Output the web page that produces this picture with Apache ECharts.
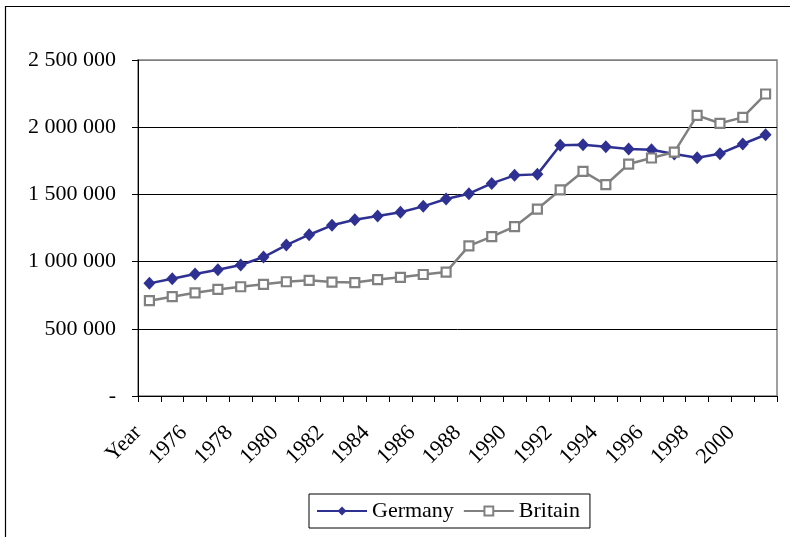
<!DOCTYPE html>
<html>
<head>
<meta charset="utf-8">
<script src="https://cdn.jsdelivr.net/npm/echarts@6/dist/echarts.min.js"></script>
<style>
html,body{margin:0;padding:0;background:#fff;}
#c{width:790px;height:537px;}
</style>
</head>
<body>
<div id="c"></div>
<script>
var categories = ['Year','1975','1976','1977','1978','1979','1980','1981','1982','1983','1984','1985','1986','1987','1988','1989','1990','1991','1992','1993','1994','1995','1996','1997','1998','1999','2000','2001'];
var germany = [838000, 872000, 908000, 940000, 975000, 1034000, 1123000, 1200000, 1270000, 1312000, 1339000, 1367000, 1411000, 1466000, 1505000, 1582000, 1642000, 1649000, 1865000, 1870000, 1855000, 1838000, 1832000, 1800000, 1773000, 1803000, 1875000, 1944000];
var britain = [709000, 739000, 768000, 793000, 813000, 831000, 850000, 861000, 848000, 844000, 866000, 883000, 904000, 922000, 1117000, 1186000, 1260000, 1391000, 1533000, 1671000, 1572000, 1726000, 1771000, 1815000, 2088000, 2029000, 2073000, 2247000];
var yTicks = [0, 500000, 1000000, 1500000, 2000000, 2500000];
var yTickLabels = ['-', '500 000', '1 000 000', '1 500 000', '2 000 000', '2 500 000'];

var FONT = 'Liberation Serif';
var chart = echarts.init(document.getElementById('c'), null, {renderer: 'canvas'});
chart.setOption({
  animation: false,
  backgroundColor: '#fff',
  graphic: [{
    type: 'rect',
    shape: {x: 5.5, y: 6.5, width: 900, height: 900},
    style: {fill: 'none', stroke: '#000', lineWidth: 1.2},
    silent: true, z: 0
  }],
  grid: {
    left: 138, right: 13, top: 60, bottom: 141,
    show: true, borderColor: '#808080', borderWidth: 1.5, backgroundColor: 'transparent'
  },
  legend: {
    left: 309, top: 494,
    orient: 'horizontal',
    borderColor: '#000', borderWidth: 1,
    padding: [6, 10, 6, 7],
    itemWidth: 50, itemHeight: 11, itemGap: 9,
    textStyle: {fontFamily: FONT, fontSize: 22, color: '#000'},
    data: ['Germany', 'Britain']
  },
  xAxis: {
    type: 'category',
    data: categories,
    boundaryGap: true,
    axisLine: {show: true, lineStyle: {color: '#000', width: 1}},
    axisTick: {show: true, interval: 0, length: 6, lineStyle: {color: '#000'}},
    axisLabel: {
      interval: 1, rotate: 45, margin: 22, padding: [0, 16, 0, 0],
      fontFamily: FONT, fontSize: 22, color: '#000'
    },
    splitLine: {show: false}
  },
  yAxis: {
    type: 'value',
    min: 0, max: 2500000, interval: 500000,
    axisLine: {show: true, lineStyle: {color: '#000', width: 1}},
    axisTick: {show: true, length: 6, lineStyle: {color: '#000'}},
    axisLabel: {
      margin: 22, fontFamily: FONT, fontSize: 22, color: '#000',
      formatter: function (v) {
        var i = yTicks.indexOf(v);
        return i >= 0 ? yTickLabels[i] : '';
      }
    },
    splitLine: {show: true, lineStyle: {color: ['#000', '#000', '#000', '#000', '#000', '#808080'], width: 1}}
  },
  series: [{
    name: 'Germany',
    type: 'line',
    data: germany,
    symbol: 'diamond',
    symbolSize: [12, 13],
    color: '#2e3192',
    lineStyle: {color: '#2e3192', width: 2.5},
    itemStyle: {color: '#2e3192'},
    z: 2
  }, {
    name: 'Britain',
    type: 'line',
    data: britain,
    symbol: 'rect',
    symbolSize: 9,
    showAllSymbol: true,
    color: '#808080',
    lineStyle: {color: '#808080', width: 2.5},
    itemStyle: {color: '#fff', borderColor: '#808080', borderWidth: 2.2},
    z: 3
  }]
});
</script>
</body>
</html>
